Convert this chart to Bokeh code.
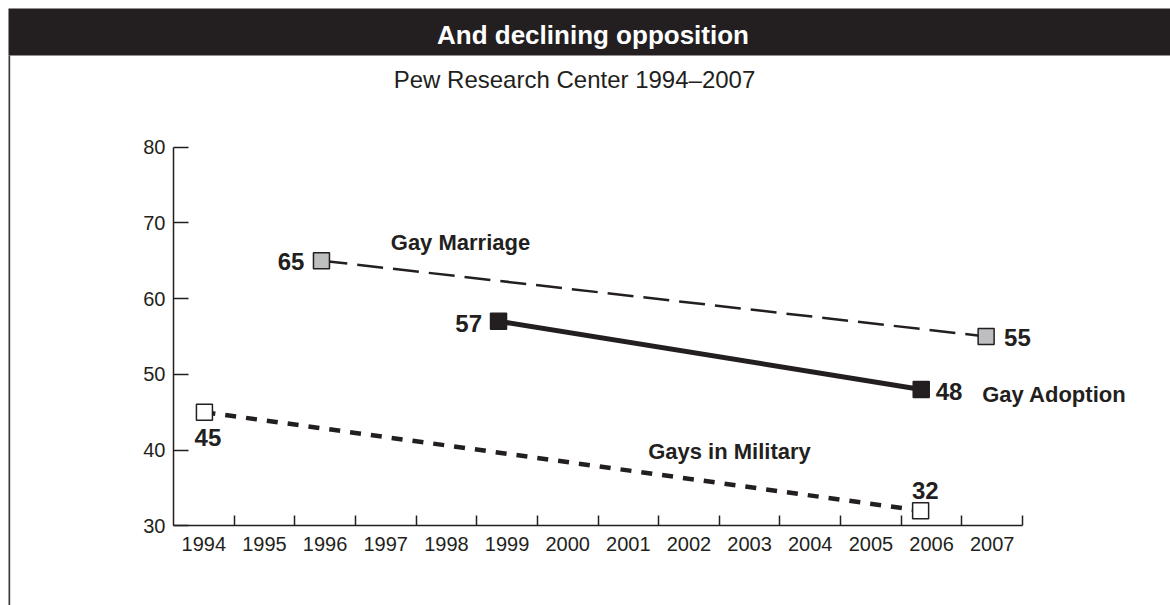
from bokeh.plotting import figure
from bokeh.models import Range1d, LinearAxis, FixedTicker, BoxAnnotation, Label
from bokeh.core.properties import value
from bokeh.embed import file_html
from bokeh.resources import INLINE

# ---------------- data ----------------
title_text = "And declining opposition"
subtitle_text = "Pew Research Center 1994\u20132007"
years = list(range(1994, 2008))
year_edges = [y + 0.5 for y in years]
y_ticks = [30, 40, 50, 60, 70, 80]

marriage_name = "Gay Marriage"
marriage_x = [1995.94, 2006.90]
marriage_y = [65, 55]

adoption_name = "Gay Adoption"
adoption_x = [1998.86, 2005.83]
adoption_y = [57, 48]

military_name = "Gays in Military"
military_x = [1994.01, 2005.82]
military_y = [45, 32]

# ---------------- layout / style ----------------
INK = "#231f20"
FONT = "Liberation Sans"
W, H = 1170, 605
PX_X = (1022 - 173) / 14.0
X0 = 1993.5 - 173 / PX_X
X1 = X0 + W / PX_X
PX_Y = (525.3 - 146.5) / 50.0
Y1 = 80 + 146.5 / PX_Y
Y0 = Y1 - H / PX_Y


def dx(cx):
    return X0 + cx / PX_X


def dy(cy):
    return Y1 - cy / PX_Y


p = figure(width=W, height=H, x_range=Range1d(X0, X1), y_range=Range1d(Y0, Y1),
           output_backend="svg", toolbar_location=None,
           x_axis_location=None, y_axis_location=None, min_border=0, title=None)
p.xgrid.visible = False
p.ygrid.visible = False
p.outline_line_color = None
p.background_fill_color = "white"
p.border_fill_color = "white"

# header bar and left rule
bar_top = dy(8)
bar_bottom = dy(55)
p.add_layout(BoxAnnotation(left=dx(8), right=X1, top=bar_top, bottom=bar_bottom,
                           fill_color=INK, fill_alpha=1.0, line_color=None, level="underlay"))
p.add_layout(BoxAnnotation(left=dx(8), right=dx(9.7), top=bar_bottom, bottom=Y0,
                           fill_color="#3d3b3c", fill_alpha=1.0, line_color=None, level="underlay"))

p.add_layout(Label(x=dx(592.5), y=dy(34), text=title_text, text_align="center",
                   text_baseline="middle", text_color="white", text_font=FONT,
                   text_font_style="bold", text_font_size="26px"))
p.add_layout(Label(x=dx(574), y=dy(78.5), text=subtitle_text, text_align="center",
                   text_baseline="middle", text_color=INK, text_font=FONT,
                   text_font_size="24px"))

# axes
yaxis = LinearAxis(fixed_location=1993.5, bounds=(30, 80), ticker=FixedTicker(ticks=y_ticks))
yaxis.axis_line_color = INK
yaxis.axis_line_width = 1.5
yaxis.major_tick_line_color = INK
yaxis.major_tick_line_width = 1.5
yaxis.major_tick_in = 15
yaxis.major_tick_out = 0
yaxis.minor_tick_in = 0
yaxis.minor_tick_out = 0
yaxis.major_label_standoff = 8
yaxis.major_label_text_font = FONT
yaxis.major_label_text_font_size = "20px"
yaxis.major_label_text_color = INK
p.add_layout(yaxis, "left")

xaxis = LinearAxis(fixed_location=30, bounds=(1993.5, 2007.5),
                   ticker=FixedTicker(ticks=years, minor_ticks=year_edges))
xaxis.axis_line_color = INK
xaxis.axis_line_width = 1.5
xaxis.major_tick_in = 0
xaxis.major_tick_out = 0
xaxis.minor_tick_in = 10
xaxis.minor_tick_out = 0
xaxis.minor_tick_line_color = INK
xaxis.minor_tick_line_width = 1.5
xaxis.major_label_standoff = 11
xaxis.major_label_text_font = FONT
xaxis.major_label_text_font_size = "20px"
xaxis.major_label_text_color = INK
p.add_layout(xaxis, "below")

# lines
p.line(marriage_x, marriage_y, line_color=INK, line_width=2.5, line_dash="26 10")
p.line(adoption_x, adoption_y, line_color=INK, line_width=5)
p.line(military_x, military_y, line_color=INK, line_width=4.5, line_dash="11 10")

# markers
p.scatter(marriage_x, marriage_y, marker="square", size=16, fill_color="#bcbec0",
          line_color=INK, line_width=1.5)
p.scatter(adoption_x, adoption_y, marker="square", size=16, fill_color=INK,
          line_color=INK, line_width=1.5)
p.scatter(military_x, military_y, marker="square", size=16, fill_color="white",
          line_color=INK, line_width=1.5)


def label(x, y, txt, align, xo, yo, size):
    p.text(x=[x], y=[y], text=[txt], text_align=align, text_baseline="middle",
           x_offset=xo, y_offset=yo, text_color=INK, text_font=value(FONT),
           text_font_style="bold", text_font_size=size)


# value labels
label(marriage_x[0], marriage_y[0], str(marriage_y[0]), "right", -17, 1, "24px")
label(marriage_x[1], marriage_y[1], str(marriage_y[1]), "left", 18, 1, "24px")
label(adoption_x[0], adoption_y[0], str(adoption_y[0]), "right", -16.5, 2, "24px")
label(adoption_x[1], adoption_y[1], str(adoption_y[1]), "left", 14.5, 2, "24px")
label(military_x[0], military_y[0], str(military_y[0]), "center", 3.5, 25.5, "24px")
label(military_x[1], military_y[1], str(military_y[1]), "center", 4.7, -20, "24px")

# series names
label(marriage_x[0], marriage_y[0], marriage_name, "left", 69.3, -18.5, "22px")
label(adoption_x[1], adoption_y[1], adoption_name, "left", 61, 5.5, "22px")
label(military_x[0], military_y[0], military_name, "left", 443.7, 39.5, "22px")

open("out.html", "w").write(file_html(p, INLINE))
